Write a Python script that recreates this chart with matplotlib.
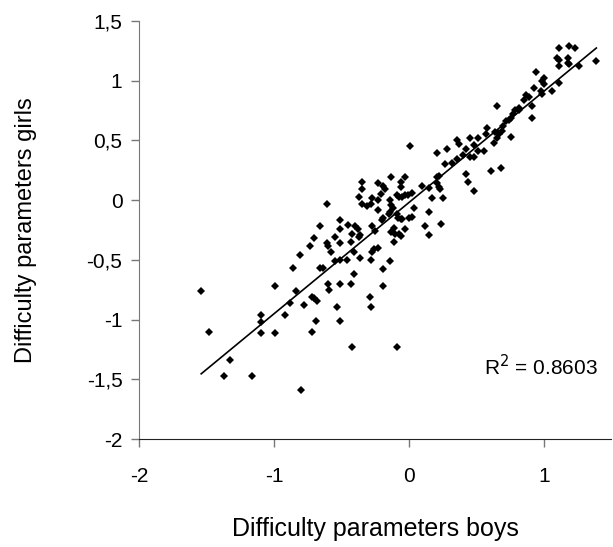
import matplotlib
matplotlib.use("Agg")
import matplotlib.pyplot as plt
from matplotlib.ticker import FuncFormatter, MultipleLocator
import numpy as np

plt.rcParams["font.family"] = ["Liberation Sans", "DejaVu Sans"]

# Item difficulty estimates (boys on x, girls on y)
boys = [
    -1.54, -0.99, -0.84, -0.88, -0.78, -0.72, -0.70, -0.68, -0.60, -0.59,
    -1.10, -1.10, -0.92, -1.48, -1.10, -0.99, -0.69, -0.72, -1.33, -1.37,
    -1.16, -0.80, -0.61, -0.66, -0.70, -0.73, -0.61, -0.60, -0.81, -0.86,
    -0.66, -0.64, -0.58,
    -0.35, -0.23, -0.35, -0.37, -0.27, -0.23, -0.35, -0.31, -0.28, -0.23,
    -0.51, -0.45, -0.40, -0.38, -0.51, -0.27, -0.25, -0.55, -0.42, -0.36,
    -0.37, -0.51, -0.43, -0.41, -0.26, -0.27, -0.23, -0.36, -0.28, -0.55,
    -0.51, -0.46, -0.41, -0.51, -0.43, -0.29, -0.28, -0.53, -0.51, -0.42,
    -0.19, -0.18, -0.21, -0.13, -0.03, -0.06, -0.06, -0.14, -0.13, -0.09,
    -0.07, -0.05, -0.03, -0.01, 0.02, 0.04, -0.14, -0.12, -0.15, -0.09,
    -0.08, -0.06, -0.05, 0.00, 0.02, -0.19, -0.20, -0.11, -0.03, -0.13,
    -0.10, -0.07, -0.06, -0.11, -0.14, -0.19, -0.19, -0.09,
    0.10, 0.15, 0.17, 0.25, 0.15, 0.12, 0.15, 0.24, 0.21, 0.22,
    0.21, 0.22, 0.23, 0.01,
    0.65, 0.58, 0.57, 0.64, 0.66, 0.67, 0.65, 0.63, 0.45, 0.51,
    0.36, 0.37, 0.48, 0.21, 0.28, 0.42, 0.51, 0.56, 0.40, 0.45,
    0.48, 0.36, 0.32, 0.27, 0.42, 0.61, 0.68, 0.44, 0.48,
    1.11, 1.19, 1.23, 1.10, 1.11, 1.18, 1.18, 1.19, 1.11, 1.26,
    1.39, 0.94, 1.00, 0.99, 1.00, 0.93, 1.11, 1.06, 0.98, 0.99,
    0.87, 0.89, 0.85, 0.91, 0.82, 0.82, 0.79, 0.77, 0.76, 0.74,
    0.72, 0.91, 0.70, 0.69, 0.76,
]
girls = [
    -0.76, -0.72, -0.76, -0.86, -0.88, -0.81, -0.82, -0.84, -0.70, -0.75,
    -0.96, -1.02, -0.96, -1.10, -1.11, -1.11, -1.01, -1.10, -1.34, -1.47,
    -1.47, -1.59, -0.03, -0.22, -0.32, -0.38, -0.36, -0.38, -0.46, -0.57,
    -0.57, -0.57, -0.43,
    0.15, 0.14, 0.09, 0.03, 0.02, 0.00, -0.03, -0.05, -0.03, -0.08,
    -0.17, -0.21, -0.22, -0.24, -0.24, -0.22, -0.26, -0.31, -0.28, -0.29,
    -0.31, -0.36, -0.35, -0.43, -0.41, -0.43, -0.40, -0.48, -0.50, -0.51,
    -0.50, -0.50, -0.62, -0.70, -0.70, -0.81, -0.89, -0.89, -1.01, -1.23,
    0.12, 0.09, 0.05, 0.19, 0.19, 0.15, 0.11, 0.00, -0.04, 0.04,
    0.03, 0.03, 0.04, 0.04, 0.06, -0.07, -0.10, -0.07, -0.12, -0.12,
    -0.15, -0.16, -0.16, -0.15, -0.14, -0.15, -0.17, -0.23, -0.24, -0.27,
    -0.28, -0.28, -0.30, -0.35, -0.51, -0.58, -0.72, -1.23,
    0.12, 0.10, 0.02, 0.02, -0.10, -0.22, -0.29, -0.20, 0.19, 0.20,
    0.14, 0.11, 0.09, 0.45,
    0.79, 0.60, 0.55, 0.57, 0.56, 0.55, 0.52, 0.48, 0.52, 0.52,
    0.50, 0.47, 0.46, 0.39, 0.43, 0.43, 0.41, 0.41, 0.38, 0.36,
    0.36, 0.34, 0.31, 0.30, 0.22, 0.24, 0.27, 0.15, 0.08,
    1.27, 1.29, 1.27, 1.19, 1.17, 1.19, 1.15, 1.14, 1.12, 1.12,
    1.16, 1.07, 1.02, 1.00, 0.97, 0.94, 0.98, 0.91, 0.91, 0.89,
    0.88, 0.86, 0.84, 0.79, 0.77, 0.75, 0.75, 0.72, 0.69, 0.67,
    0.66, 0.69, 0.62, 0.58, 0.53,
]
r2_text = "R$^2$ = 0.8603"

x = np.array(boys)
y = np.array(girls)

fig = plt.figure(figsize=(6.13, 5.47), dpi=100)
ax = fig.add_axes([0.227, 0.197, 0.770, 0.765])

ax.plot(x, y, linestyle="none", marker="D", markersize=3.6,
        color="black", markeredgewidth=0)

# linear trend line
k, b = np.polyfit(x, y, 1)
xs = np.array([x.min(), x.max()])
ax.plot(xs, k * xs + b, color="black", linewidth=1.2)

ax.text(0.56, -1.39, r2_text, fontsize=15, va="center", ha="left")

ax.set_xlim(-2, 1.5)
ax.set_ylim(-2, 1.5)
ax.xaxis.set_major_locator(MultipleLocator(1))
ax.yaxis.set_major_locator(MultipleLocator(0.5))
fmt = FuncFormatter(lambda v, p: ("%g" % v).replace(".", ","))
ax.xaxis.set_major_formatter(fmt)
ax.yaxis.set_major_formatter(fmt)

for s in ["top", "right"]:
    ax.spines[s].set_visible(False)
ax.spines["left"].set_color("#777777")
ax.spines["bottom"].set_color("#222222")
ax.tick_params(axis="both", labelsize=15, length=6, width=1,
               color="#777777", pad=6)
ax.tick_params(axis="x", pad=14)

ax.set_xlabel("Difficulty parameters boys", fontsize=18, labelpad=22)
ax.set_ylabel("Difficulty parameters girls", fontsize=17, labelpad=36)

fig.savefig("out.png", dpi=100, facecolor="white")
